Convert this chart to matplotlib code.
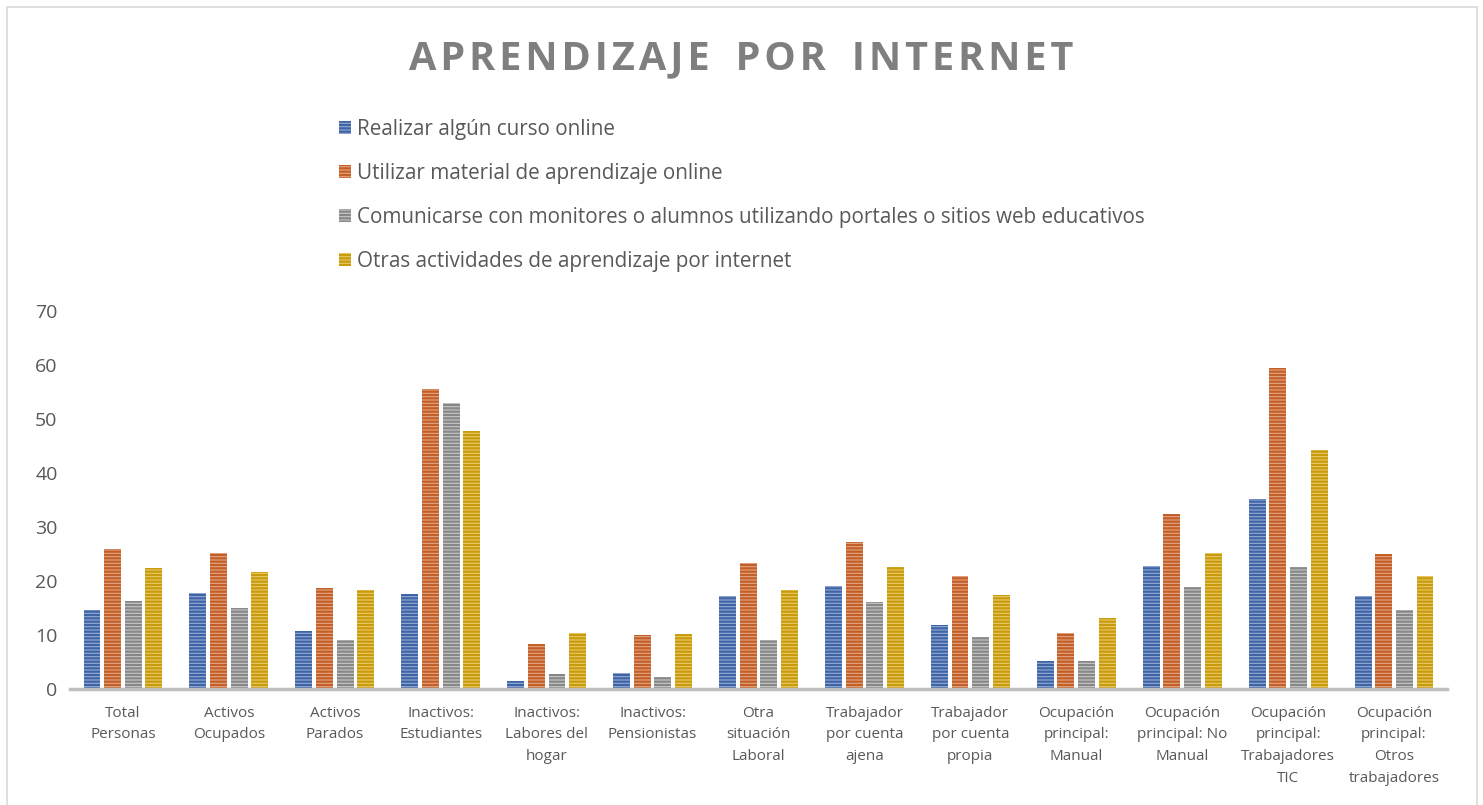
import matplotlib.pyplot as plt
import numpy as np
from matplotlib.patches import Rectangle

categories = [
    "Total\nPersonas", "Activos\nOcupados", "Activos\nParados",
    "Inactivos:\nEstudiantes", "Inactivos:\nLabores del\nhogar",
    "Inactivos:\nPensionistas", "Otra\nsituación\nLaboral",
    "Trabajador\npor cuenta\najena", "Trabajador\npor cuenta\npropia",
    "Ocupación\nprincipal:\nManual", "Ocupación\nprincipal: No\nManual",
    "Ocupación\nprincipal:\nTrabajadores\nTIC", "Ocupación\nprincipal:\nOtros\ntrabajadores",
]
series_names = [
    "Realizar algún curso online",
    "Utilizar material de aprendizaje online",
    "Comunicarse con monitores o alumnos utilizando portales o sitios web educativos",
    "Otras actividades de aprendizaje por internet",
]
curso_online = [14.6, 17.8, 10.7, 17.6, 1.5, 3.0, 17.2, 19.1, 11.8, 5.2, 22.8, 35.2, 17.2]
material_online = [25.9, 25.2, 18.7, 55.6, 8.3, 10.0, 23.4, 27.3, 21.0, 10.4, 32.4, 59.4, 25.0]
comunicarse = [16.3, 15.0, 9.1, 53.0, 2.8, 2.2, 9.1, 16.1, 9.7, 5.1, 18.9, 22.6, 14.6]
otras = [22.4, 21.7, 18.3, 47.8, 10.4, 10.2, 18.4, 22.6, 17.5, 13.2, 25.2, 44.3, 20.9]
title = "APRENDIZAJE POR INTERNET"

series = [curso_online, material_online, comunicarse, otras]
dark = ["#3F64A6", "#C25E26", "#878787", "#C99A0A"]
light = ["#94AAD3", "#E3A784", "#C8C8C8", "#E8CA6C"]

plt.rcParams["font.family"] = ["Open Sans", "DejaVu Sans"]
plt.rcParams["hatch.linewidth"] = 1.6
text_color = "#595959"

fig = plt.figure(figsize=(14.83, 8.05), dpi=100)
ax = fig.add_axes([70 / 1483, 1 - 689 / 805, 1377 / 1483, 378 / 805])

x = np.arange(len(categories))
step = 0.195
width = 0.16
for i, vals in enumerate(series):
    ax.bar(x + (i - 1.5) * step, vals, width, color=light[i], edgecolor=dark[i],
           hatch="-----", linewidth=0, label=series_names[i])

ax.set_xlim(-0.5, len(categories) - 0.5)
ax.set_ylim(0, 70)
ax.set_yticks(range(0, 71, 10))
ax.set_xticks(x)
ax.set_xticklabels(categories, fontsize=11, color=text_color, linespacing=1.62)
ax.tick_params(axis="y", labelsize=14, labelcolor=text_color, length=0, pad=9)
ax.tick_params(axis="x", length=0, pad=12)
for s in ["top", "right", "left"]:
    ax.spines[s].set_visible(False)
ax.spines["bottom"].set_color("#BFBFBF")
ax.spines["bottom"].set_linewidth(2.5)

# letter-spaced title, like the original
spaced = "\u200a".join(title).replace("\u200a \u200a", "\u2009 \u2009")
fig.text(0.5, 1 - 59 / 805, spaced, ha="center", va="center",
         fontsize=28.5, fontweight="bold", color="#7F7F7F")

fig.legend(loc="upper left", bbox_to_anchor=(320 / 1483, 1 - 100 / 805),
           frameon=False, fontsize=14.9, labelcolor=text_color,
           handlelength=0.6, handleheight=0.6, handletextpad=0.3,
           labelspacing=1.12)

fig.patches.append(Rectangle((7 / 1483, -0.01), 1470 / 1483, 1 - 7 / 805 + 0.01,
                             transform=fig.transFigure, fill=False,
                             edgecolor="#D9D9D9", linewidth=1.2))

fig.savefig("out.png", dpi=100)
